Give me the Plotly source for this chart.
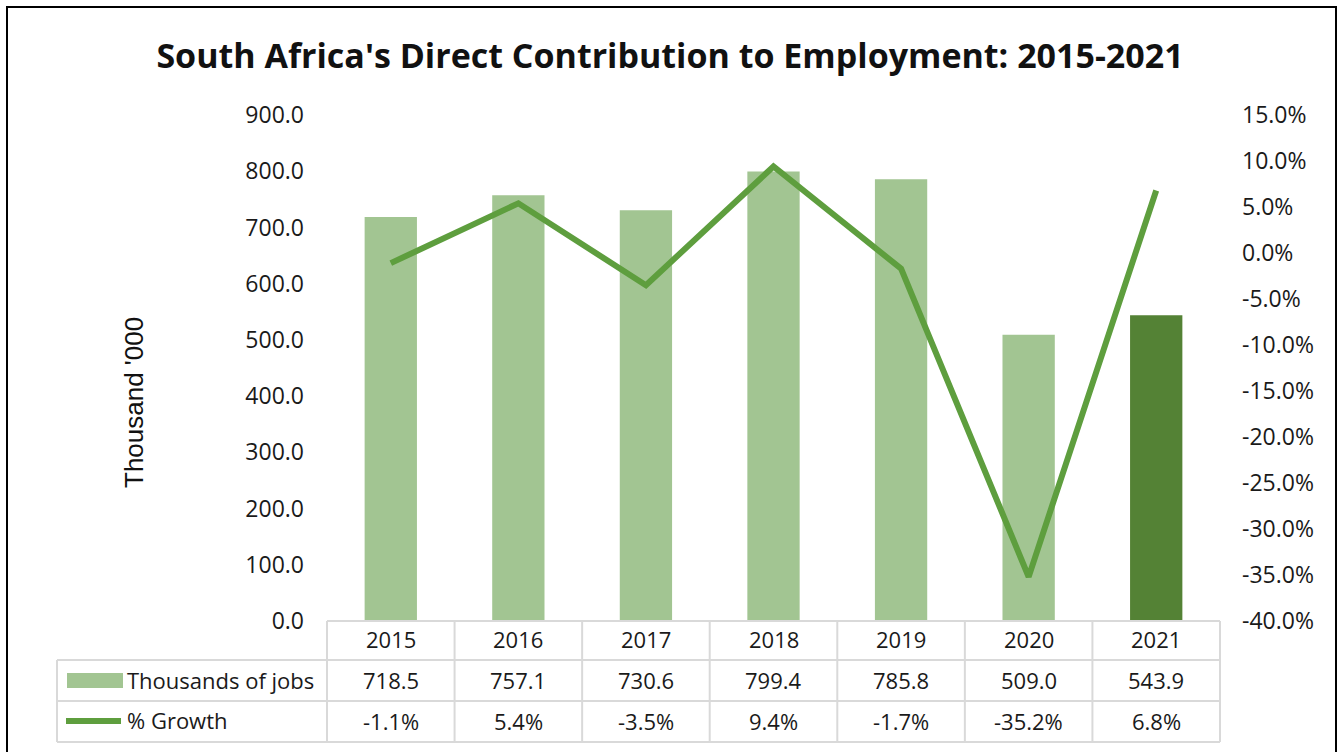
import plotly.graph_objects as go

# Data
years = ["2015", "2016", "2017", "2018", "2019", "2020", "2021"]
jobs = [718.5, 757.1, 730.6, 799.4, 785.8, 509.0, 543.9]
growth = [-1.1, 5.4, -3.5, 9.4, -1.7, -35.2, 6.8]
left_ticks = [0, 100, 200, 300, 400, 500, 600, 700, 800, 900]
right_ticks = [-40, -35, -30, -25, -20, -15, -10, -5, 0, 5, 10, 15]

BAR_LIGHT = "#A2C592"
BAR_DARK = "#548235"
LINE = "#5E9E3E"
GRID = "#D9D9D9"
FONT = "Open Sans"
TEXT = "#1A1A1A"

W, H = 1338, 752
L, R, T, B = 327, 1220, 115, 621  # plot area in pixels


def px_x(x):
    return (x - L) / (R - L)


def px_y(y):
    return (B - y) / (B - T)


fig = go.Figure()

bar_colors = [BAR_LIGHT] * (len(years) - 1) + [BAR_DARK]
fig.add_trace(go.Bar(
    x=years, y=jobs, marker=dict(color=bar_colors, line=dict(width=0)),
    width=0.41, name="Thousands of jobs", showlegend=False,
))
fig.add_trace(go.Scatter(
    x=years, y=growth, yaxis="y2", mode="lines",
    line=dict(color=LINE, width=6, shape="linear"),
    name="% Growth", showlegend=False,
))

shapes = []
annotations = []

# Data table grid
row_lines = [621, 660, 701, 742]
col_w = (R - L) / len(years)
for i, y in enumerate(row_lines):
    x0 = L if i == 0 else 57
    shapes.append(dict(type="line", xref="paper", yref="paper",
                       x0=px_x(x0), x1=px_x(R), y0=px_y(y), y1=px_y(y),
                       line=dict(color=GRID, width=2)))
for k in range(len(years) + 1):
    x = L + k * col_w
    shapes.append(dict(type="line", xref="paper", yref="paper",
                       x0=px_x(x), x1=px_x(x), y0=px_y(621), y1=px_y(742),
                       line=dict(color=GRID, width=2)))
shapes.append(dict(type="line", xref="paper", yref="paper",
                   x0=px_x(57), x1=px_x(57), y0=px_y(660), y1=px_y(742),
                   line=dict(color=GRID, width=2)))

# Legend keys inside the table
shapes.append(dict(type="rect", xref="paper", yref="paper",
                   x0=px_x(67), x1=px_x(123), y0=px_y(673), y1=px_y(688),
                   fillcolor=BAR_LIGHT, line=dict(width=0)))
shapes.append(dict(type="path", xref="paper", yref="paper",
                   path=f"M {px_x(66)},{px_y(721)} L {px_x(121)},{px_y(721)}",
                   line=dict(color=LINE, width=6)))

# Outer frame
shapes.append(dict(type="rect", xref="paper", yref="paper",
                   x0=px_x(7), x1=px_x(1336), y0=px_y(7), y1=px_y(760),
                   line=dict(color="black", width=2), fillcolor="rgba(0,0,0,0)"))

row_y = {"year": 639, "jobs": 680, "growth": 721}
cell_font = dict(family=FONT, size=22, color=TEXT)
for i, (yr, j, g) in enumerate(zip(years, jobs, growth)):
    for key, txt in (("year", yr), ("jobs", f"{j:.1f}"), ("growth", f"{g:.1f}%")):
        annotations.append(dict(x=i, xref="x", y=px_y(row_y[key]), yref="paper",
                                text=txt, showarrow=False, font=cell_font,
                                xanchor="center", yanchor="middle"))

annotations.append(dict(x=px_x(125), xref="paper", y=px_y(680), yref="paper",
                        text="Thousands of jobs", showarrow=False, font=cell_font,
                        xanchor="left", yanchor="middle"))
annotations.append(dict(x=px_x(125), xref="paper", y=px_y(720), yref="paper",
                        text="% Growth", showarrow=False, font=cell_font,
                        xanchor="left", yanchor="middle"))

# Left axis title
annotations.append(dict(x=px_x(134), xref="paper", y=px_y(403), yref="paper",
                        text="Thousand '000", textangle=-90, showarrow=False,
                        font=dict(family="Liberation Sans", size=26, color="#111111"),
                        xanchor="center", yanchor="middle"))

fig.update_layout(
    width=W, height=H,
    margin=dict(l=L, r=W - R, t=T, b=H - B),
    paper_bgcolor="white", plot_bgcolor="white",
    title=dict(text="<b>South Africa's Direct Contribution to Employment: 2015-2021</b>",
               x=670 / W, xref="container", xanchor="center",
               y=1 - 56 / H, yref="container", yanchor="middle",
               font=dict(family=FONT, size=34, color="#111111")),
    xaxis=dict(type="category", range=[-0.5, len(years) - 0.5],
               showticklabels=False, showgrid=False, zeroline=False, showline=False,
               ticks=""),
    yaxis=dict(range=[0, 900], tickvals=left_ticks,
               ticktext=[f"{v:.1f}" for v in left_ticks],
               showgrid=False, zeroline=False, showline=False,
               ticklabelstandoff=22,
               tickfont=dict(family=FONT, size=23, color=TEXT)),
    yaxis2=dict(range=[-40, 15], tickvals=right_ticks,
                ticktext=[f"{v:.1f}%" for v in right_ticks],
                overlaying="y", side="right",
                showgrid=False, zeroline=False, showline=False,
                ticklabelstandoff=21,
                tickfont=dict(family=FONT, size=23, color=TEXT)),
    shapes=shapes, annotations=annotations,
    bargap=0.59,
)

fig.write_html("out.html")
